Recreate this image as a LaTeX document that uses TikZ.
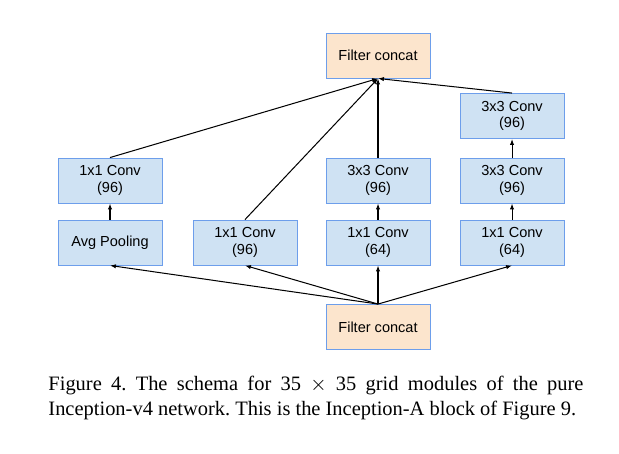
\documentclass[tikz,border=0pt]{standalone}
\usepackage{fontspec}
\setmainfont{Liberation Serif}
\setsansfont{Liberation Sans}
\usetikzlibrary{arrows.meta}
\definecolor{convfill}{RGB}{207,226,243}
\definecolor{catfill}{RGB}{252,229,205}
\definecolor{boxline}{RGB}{109,158,235}

\begin{document}
\begin{tikzpicture}[
  x=0.44pt, y=-0.44pt,
  font=\sffamily\fontsize{6.4}{7.4}\selectfont,
  conv/.style={draw=boxline, line width=0.4pt, fill=convfill, align=center, inner sep=0pt, minimum width=45.8pt, minimum height=19.8pt},
  concat/.style={conv, fill=catfill},
  arrow/.style={-{Latex[length=2.6pt,width=1.9pt]}, line width=0.45pt, draw=black}
]
\useasboundingbox (0,0) rectangle (619,453);

\node[concat] (catout) at (378,55.5) {Filter concat};
\node[concat] (catin) at (378,327) {Filter concat};

% branch 1: pooling
\node[conv] (pool) at (110,242.5) {Avg Pooling};
\node[conv] (poolconv) at (110,180.5) {1x1 Conv\\(96)};
% branch 2
\node[conv] (single) at (245,242.5) {1x1 Conv\\(96)};
% branch 3
\node[conv] (redA) at (378,242.5) {1x1 Conv\\(64)};
\node[conv] (convA) at (378,180.5) {3x3 Conv\\(96)};
% branch 4
\node[conv] (redB) at (512,242.5) {1x1 Conv\\(64)};
\node[conv] (convB) at (512,180.5) {3x3 Conv\\(96)};
\node[conv] (convC) at (512,116) {3x3 Conv\\(96)};

\draw[arrow] (catin.north) -- (pool.south);
\draw[arrow] (catin.north) -- (single.south);
\draw[arrow] (catin.north) -- (redA.south);
\draw[arrow] (catin.north) -- (redB.south);

\draw[arrow] (pool) -- (poolconv);
\draw[arrow] (redA) -- (convA);
\draw[arrow] (redB) -- (convB);
\draw[arrow] (convB) -- (convC);

\draw[arrow] (poolconv.north) -- (catout.south);
\draw[arrow] (single.north) -- (catout.south);
\draw[arrow] (convA.north) -- (catout.south);
\draw[arrow] (convC.north) -- (catout.south);

\node[anchor=base west, inner sep=0pt, text width=235.4pt, align=justify,
  font=\rmfamily\fontsize{9}{11.4}\selectfont\frenchspacing] (caption) at (48,390)
  {Figure 4. The schema for 35 $\times$ 35 grid modules of the pure\linebreak
   Inception-v4 network. This is the Inception-A block of Figure 9.};
\end{tikzpicture}
\end{document}
